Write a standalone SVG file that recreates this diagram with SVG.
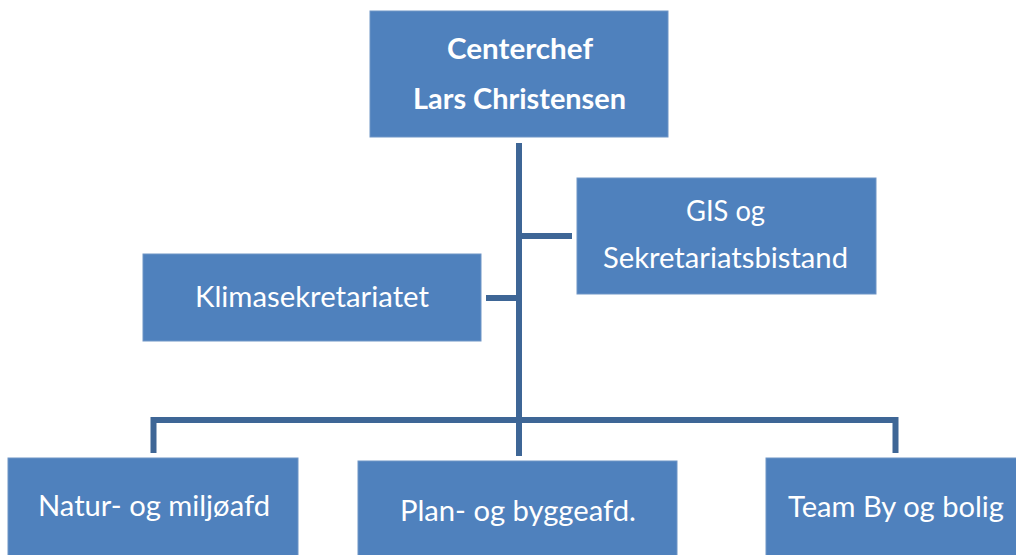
<svg xmlns="http://www.w3.org/2000/svg" width="1016" height="555" viewBox="0 0 1016 555">
<style>
.box{fill:#4F81BD;stroke:#6F95C6;stroke-width:1}
.t{font-family:Lato,"Open Sans","Liberation Sans",sans-serif;font-size:29px;fill:#FFFFFF;text-anchor:middle}
.b{font-weight:bold}
.c{fill:none;stroke:#3E6696;stroke-width:6;stroke-linejoin:miter;stroke-linecap:butt}
</style>
<rect width="1016" height="555" fill="#FFFFFF"/>
<g id="connectors">
<path class="c" d="M519,143 V456"/>
<path class="c" d="M519,236 H572"/>
<path class="c" d="M486,298 H519"/>
<path class="c" d="M153.5,453 V420 H895.5 V453"/>
</g>
<g id="centerchef">
<rect class="box" x="370" y="11" width="298" height="126"/>
<text class="t b" x="520" y="59" textLength="146" lengthAdjust="spacingAndGlyphs">Centerchef</text>
<text class="t b" x="519.5" y="109" textLength="213" lengthAdjust="spacingAndGlyphs">Lars Christensen</text>
</g>
<g id="gis">
<rect class="box" x="577" y="178" width="299" height="116"/>
<text class="t" x="725.5" y="221" textLength="79" lengthAdjust="spacingAndGlyphs">GIS og</text>
<text class="t" x="725.5" y="268" textLength="245" lengthAdjust="spacingAndGlyphs">Sekretariatsbistand</text>
</g>
<g id="klima">
<rect class="box" x="143" y="254" width="338" height="87"/>
<text class="t" x="312" y="307" textLength="234" lengthAdjust="spacingAndGlyphs">Klimasekretariatet</text>
</g>
<g id="natur">
<rect class="box" x="8" y="458" width="290" height="110"/>
<text class="t" x="154" y="516" textLength="232" lengthAdjust="spacingAndGlyphs">Natur- og miljøafd</text>
</g>
<g id="plan">
<rect class="box" x="358" y="461" width="319" height="110"/>
<text class="t" x="518" y="521" textLength="236" lengthAdjust="spacingAndGlyphs">Plan- og byggeafd.</text>
</g>
<g id="team">
<rect class="box" x="766" y="458" width="262" height="110"/>
<text class="t" x="896" y="517" textLength="216" lengthAdjust="spacingAndGlyphs">Team By og bolig</text>
</g>
</svg>
